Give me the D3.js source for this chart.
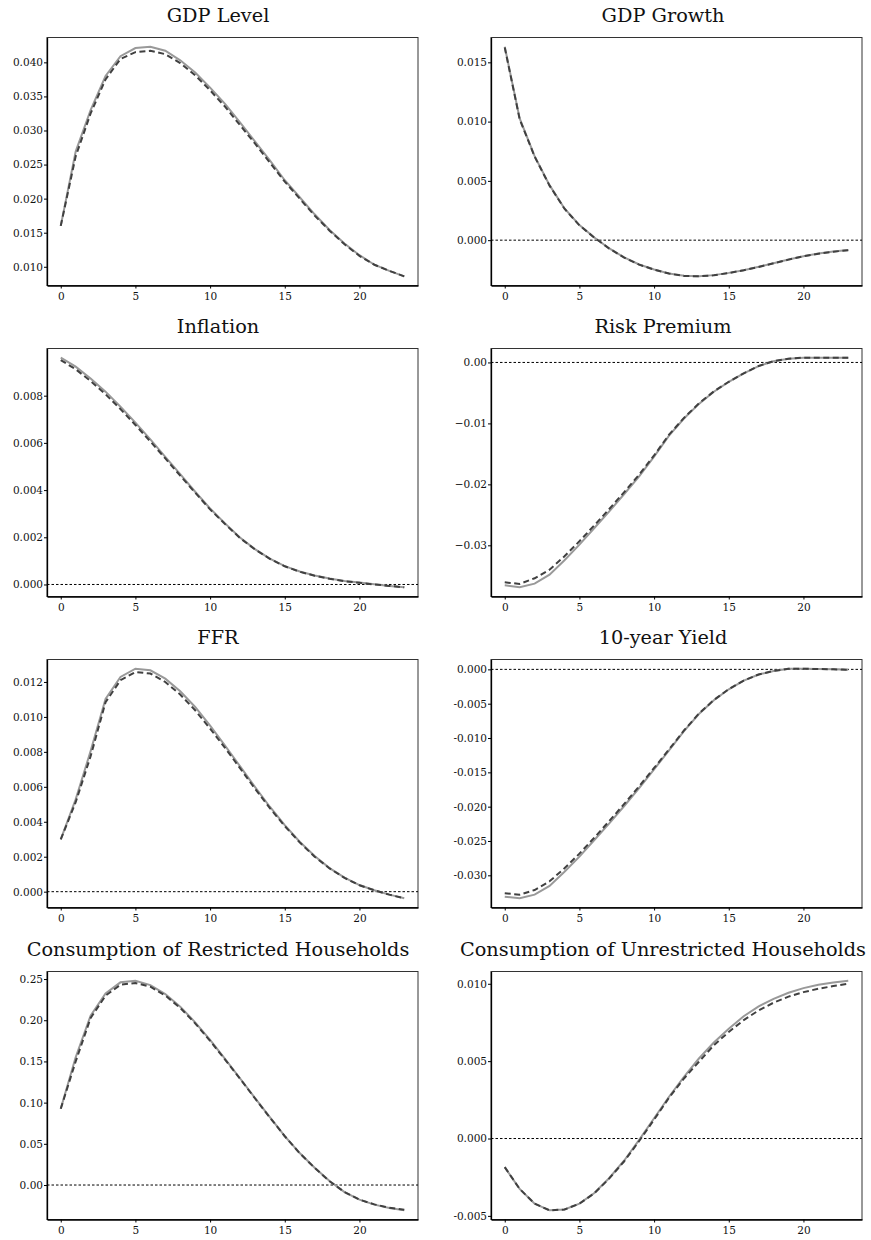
<!DOCTYPE html>
<html>
<head>
<meta charset="utf-8">
<script src="https://cdn.jsdelivr.net/npm/d3@7"></script>
<style>
  body { margin: 0; background: #fff; }
  svg text { font-family: "DejaVu Serif", serif; fill: #111; }
</style>
</head>
<body>
<div id="chart"></div>
<script>
// horizons (quarters)
var horizons = [0,1,2,3,4,5,6,7,8,9,10,11,12,13,14,15,16,17,18,19,20,21,22,23];

var titles = ["GDP Level", "GDP Growth", "Inflation", "Risk Premium", "FFR", "10-year Yield",
  "Consumption of Restricted Households", "Consumption of Unrestricted Households"];

// solid (gray) and dashed (dark) responses per panel
var gdpLevelSolid = [0.0160,0.0269,0.0330,0.0380,0.0409,0.0421,0.0423,0.0417,0.0403,0.0385,0.0363,0.0339,0.0312,0.0284,0.0256,0.0227,0.0202,0.0177,0.0154,0.0134,0.0117,0.0103,0.0094,0.0086];
var gdpLevelDash  = [0.0160,0.0262,0.0325,0.0375,0.0405,0.0415,0.0417,0.0412,0.0399,0.0381,0.0359,0.0335,0.0308,0.0281,0.0253,0.0225,0.0200,0.0175,0.0153,0.0133,0.0116,0.0103,0.0094,0.0086];

var gdpGrowthSolid = [0.01632,0.01027,0.00709,0.00464,0.00267,0.00127,0.00023,-0.00070,-0.00146,-0.00205,-0.00248,-0.00281,-0.00301,-0.00304,-0.00295,-0.00276,-0.00253,-0.00225,-0.00194,-0.00163,-0.00135,-0.00113,-0.00096,-0.00084];
var gdpGrowthDash  = [0.01625,0.01020,0.00705,0.00460,0.00265,0.00125,0.00021,-0.00071,-0.00147,-0.00206,-0.00249,-0.00282,-0.00302,-0.00305,-0.00296,-0.00277,-0.00254,-0.00226,-0.00195,-0.00164,-0.00136,-0.00114,-0.00097,-0.00085];

var inflationSolid = [0.00961,0.00923,0.00873,0.00817,0.00753,0.00686,0.00615,0.00541,0.00468,0.00393,0.00322,0.00259,0.00199,0.00150,0.00110,0.00078,0.00055,0.00038,0.00025,0.00015,0.00008,0.00001,-0.00006,-0.00012];
var inflationDash  = [0.00951,0.00912,0.00862,0.00806,0.00743,0.00676,0.00606,0.00534,0.00461,0.00389,0.00318,0.00256,0.00197,0.00149,0.00109,0.00077,0.00054,0.00037,0.00024,0.00014,0.00007,0.00000,-0.00006,-0.00012];

var riskSolid = [-0.03656,-0.03689,-0.03628,-0.03481,-0.03246,-0.02989,-0.02716,-0.02443,-0.02158,-0.01869,-0.01545,-0.01200,-0.00920,-0.00680,-0.00480,-0.00320,-0.00180,-0.00060,0.00020,0.00060,0.00077,0.00077,0.00077,0.00077];
var riskDash  = [-0.03607,-0.03634,-0.03541,-0.03399,-0.03180,-0.02934,-0.02672,-0.02404,-0.02126,-0.01842,-0.01526,-0.01185,-0.00910,-0.00672,-0.00475,-0.00317,-0.00178,-0.00058,0.00022,0.00062,0.00078,0.00078,0.00078,0.00078];

var ffrSolid = [0.00299,0.00528,0.00804,0.01103,0.01229,0.01276,0.01267,0.01219,0.01147,0.01057,0.00950,0.00836,0.00718,0.00600,0.00486,0.00381,0.00286,0.00204,0.00135,0.00080,0.00038,0.00008,-0.00017,-0.00038];
var ffrDash  = [0.00299,0.00512,0.00775,0.01084,0.01210,0.01257,0.01248,0.01200,0.01128,0.01038,0.00933,0.00823,0.00707,0.00590,0.00478,0.00375,0.00282,0.00200,0.00133,0.00079,0.00037,0.00008,-0.00017,-0.00038];

var yieldSolid = [-0.03311,-0.03335,-0.03282,-0.03155,-0.02947,-0.02728,-0.02485,-0.02243,-0.01990,-0.01728,-0.01456,-0.01180,-0.00900,-0.00650,-0.00450,-0.00290,-0.00165,-0.00075,-0.00024,0.00008,0.00010,0.00005,0.00000,-0.00005];
var yieldDash  = [-0.03262,-0.03282,-0.03214,-0.03087,-0.02898,-0.02684,-0.02451,-0.02209,-0.01960,-0.01703,-0.01436,-0.01166,-0.00890,-0.00644,-0.00446,-0.00288,-0.00164,-0.00074,-0.00023,0.00009,0.00010,0.00005,0.00000,-0.00005];

var consRSolid = [0.0925,0.1551,0.2056,0.2326,0.2460,0.2480,0.2427,0.2318,0.2165,0.1975,0.1761,0.1531,0.1296,0.1058,0.0824,0.0594,0.0388,0.0210,0.0048,-0.0085,-0.0178,-0.0238,-0.0279,-0.0307];
var consRDash  = [0.0925,0.1500,0.2027,0.2298,0.2431,0.2452,0.2407,0.2300,0.2150,0.1962,0.1750,0.1522,0.1290,0.1053,0.0820,0.0592,0.0386,0.0208,0.0046,-0.0086,-0.0177,-0.0235,-0.0275,-0.0300];

var consUSolid = [-0.00185,-0.00326,-0.00421,-0.00464,-0.00459,-0.00421,-0.00352,-0.00255,-0.00142,-0.00009,0.00131,0.00270,0.00399,0.00517,0.00620,0.00710,0.00790,0.00854,0.00903,0.00942,0.00972,0.00994,0.01009,0.01020];
var consUDash  = [-0.00185,-0.00326,-0.00421,-0.00464,-0.00459,-0.00421,-0.00354,-0.00258,-0.00147,-0.00016,0.00122,0.00264,0.00388,0.00496,0.00603,0.00689,0.00765,0.00828,0.00878,0.00917,0.00946,0.00968,0.00985,0.01000];

// y tick values and their labels
var gdpLevelTicks = [0.010,0.015,0.020,0.025,0.030,0.035,0.040];
var gdpLevelLabels = ["0.010","0.015","0.020","0.025","0.030","0.035","0.040"];
var gdpGrowthTicks = [0,0.005,0.010,0.015];
var gdpGrowthLabels = ["0.000","0.005","0.010","0.015"];
var inflationTicks = [0,0.002,0.004,0.006,0.008];
var inflationLabels = ["0.000","0.002","0.004","0.006","0.008"];
var riskTicks = [-0.03,-0.02,-0.01,0];
var riskLabels = ["\u22120.03","\u22120.02","\u22120.01","0.00"];
var ffrTicks = [0,0.002,0.004,0.006,0.008,0.010,0.012];
var ffrLabels = ["0.000","0.002","0.004","0.006","0.008","0.010","0.012"];
var yieldTicks = [-0.030,-0.025,-0.020,-0.015,-0.010,-0.005,0];
var yieldLabels = ["-0.030","-0.025","-0.020","-0.015","-0.010","-0.005","0.000"];
var consRTicks = [0,0.05,0.10,0.15,0.20,0.25];
var consRLabels = ["0.00","0.05","0.10","0.15","0.20","0.25"];
var consUTicks = [-0.005,0,0.005,0.010];
var consULabels = ["-0.005","0.000","0.005","0.010"];

var xTicks = [0,5,10,15,20];

var panels = [
  {solid: gdpLevelSolid, dash: gdpLevelDash, ticks: gdpLevelTicks, labels: gdpLevelLabels},
  {solid: gdpGrowthSolid, dash: gdpGrowthDash, ticks: gdpGrowthTicks, labels: gdpGrowthLabels},
  {solid: inflationSolid, dash: inflationDash, ticks: inflationTicks, labels: inflationLabels},
  {solid: riskSolid, dash: riskDash, ticks: riskTicks, labels: riskLabels},
  {solid: ffrSolid, dash: ffrDash, ticks: ffrTicks, labels: ffrLabels},
  {solid: yieldSolid, dash: yieldDash, ticks: yieldTicks, labels: yieldLabels},
  {solid: consRSolid, dash: consRDash, ticks: consRTicks, labels: consRLabels},
  {solid: consUSolid, dash: consUDash, ticks: consUTicks, labels: consULabels}
];

// layout
var W = 871, H = 1240;
var colLeft = [47, 491], plotW = 371;
var rowTop = [37.5, 348.5, 659.5, 971.5], plotH = 248;
var titleX = [218, 663];

var svg = d3.select("#chart")
  .append("svg")
    .attr("width", W)
    .attr("height", H);

panels.forEach(function(p, i) {
  var col = i % 2, row = Math.floor(i / 2);
  var g = svg.append("g")
    .attr("transform", "translate(" + colLeft[col] + "," + rowTop[row] + ")");

  var x = d3.scaleLinear()
    .domain([-0.92, 23.92])
    .range([0, plotW]);

  var all = p.solid.concat(p.dash);
  var lo = d3.min(all), hi = d3.max(all), pad = (hi - lo) * 0.04;
  var y = d3.scaleLinear()
    .domain([lo - pad, hi + pad])
    .range([plotH, 0]);

  // title
  svg.append("text")
    .attr("x", titleX[col])
    .attr("y", rowTop[row] - 16)
    .attr("text-anchor", "middle")
    .style("font-size", "19.3px")
    .text(titles[i]);

  // frame
  g.append("rect")
    .attr("width", plotW)
    .attr("height", plotH)
    .attr("fill", "none")
    .attr("stroke", "#333")
    .attr("stroke-width", 1);

  // axes
  var yAxis = g.append("g")
    .call(d3.axisLeft(y)
      .tickValues(p.ticks)
      .tickFormat(function(d, k) { return p.labels[k]; })
      .tickSize(3)
      .tickSizeOuter(0)
      .tickPadding(1));
  var xAxis = g.append("g")
    .attr("transform", "translate(0," + plotH + ")")
    .call(d3.axisBottom(x)
      .tickValues(xTicks)
      .tickSize(3)
      .tickSizeOuter(0)
      .tickPadding(4));
  [yAxis, xAxis].forEach(function(a) {
    a.select(".domain").attr("stroke", "#000").attr("stroke-width", 1.3);
    a.selectAll("line").attr("stroke", "#000");
    a.selectAll("text")
      .style("font-size", "10.5px")
      .style("font-family", "DejaVu Serif, serif")
      .attr("fill", "#111");
  });

  // zero line
  if (y.domain()[0] < 0 && y.domain()[1] > 0) {
    g.append("line")
      .attr("x1", 0).attr("x2", plotW)
      .attr("y1", y(0)).attr("y2", y(0))
      .attr("stroke", "#000")
      .attr("stroke-width", 1)
      .attr("stroke-dasharray", "2.5,2");
  }

  var line = function(vals) {
    return d3.line()
      .x(function(d, k) { return x(horizons[k]); })
      .y(function(d) { return y(d); })(vals);
  };

  g.append("path")
    .attr("d", line(p.solid))
    .attr("fill", "none")
    .attr("stroke", "#999")
    .attr("stroke-width", 2);

  g.append("path")
    .attr("d", line(p.dash))
    .attr("fill", "none")
    .attr("stroke", "#404040")
    .attr("stroke-width", 2)
    .attr("stroke-dasharray", "6,3.5");
});
</script>
</body>
</html>
